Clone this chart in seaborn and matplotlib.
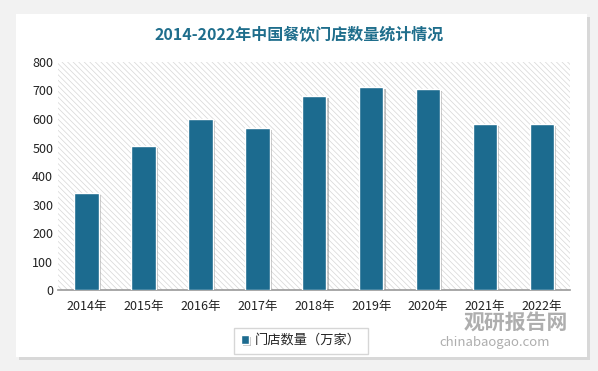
import matplotlib
matplotlib.use('Agg')
import matplotlib.pyplot as plt
import matplotlib.patheffects as pe
from matplotlib.patches import Rectangle
import seaborn as sns
import pandas as pd

years = ['2014年', '2015年', '2016年', '2017年', '2018年', '2019年', '2020年', '2021年', '2022年']
stores = [340, 507, 601, 568, 681, 712, 705, 582, 582]
series_name = '门店数量（万家）'

sns.set_style('white')
plt.rcParams['font.family'] = ['Noto Sans CJK SC', 'DejaVu Sans']
plt.rcParams['hatch.linewidth'] = 0.5
plt.rcParams['hatch.color'] = '#d2d2d2'

df = pd.DataFrame({'year': years, 'value': stores})

fig = plt.figure(figsize=(5.98, 3.71), dpi=100)
fig.patch.set_facecolor('#f2f2f2')

# white card with soft shadow
card = Rectangle((0.027, 0.037), 0.955, 0.925, transform=fig.transFigure,
                 facecolor='white', edgecolor='none', zorder=-5,
                 path_effects=[pe.SimplePatchShadow(offset=(2, -2), shadow_rgbFace='#c8c8c8', alpha=0.6),
                               pe.Normal()])
fig.patches.append(card)

ax = fig.add_axes([0.097, 0.218, 0.857, 0.615])
ax.set_zorder(1)
ax.set_facecolor('none')

# hatched background
ax.add_patch(Rectangle((0, 0), 1, 1, transform=ax.transAxes, facecolor='white',
                       edgecolor='#d6d6d6', hatch='\\\\\\\\\\\\', linewidth=0, zorder=0))

sns.barplot(data=df, x='year', y='value', color='#1c6b8f', width=0.43,
            saturation=1, ax=ax, zorder=3, label=series_name)
for bar in ax.patches[1:]:
    bar.set_edgecolor('white')
    bar.set_linewidth(1.0)
    bar.set_path_effects([pe.SimplePatchShadow(offset=(1.5, -1.5), shadow_rgbFace='#888888', alpha=0.5),
                          pe.Normal()])

ax.set_ylim(0, 800)
ax.set_xlim(-0.5, 8.5)
ax.set_yticks(range(0, 801, 100))
ax.set_xlabel('')
ax.set_ylabel('')
ax.tick_params(axis='both', labelsize=9, length=0, colors='#222222')
ax.tick_params(axis='x', pad=7)
for s in ['top', 'right', 'left']:
    ax.spines[s].set_visible(False)
ax.spines['bottom'].set_color('#999999')
ax.spines['bottom'].set_linewidth(1.2)

leg = ax.legend(loc='upper center', bbox_to_anchor=(0.474, -0.135), frameon=True,
                fontsize=9.5, handlelength=0.6, handleheight=0.6, handletextpad=0.5,
                fancybox=False, borderpad=0.5)
leg.get_frame().set_edgecolor('#cccccc')
leg.get_frame().set_linewidth(1.0)

fig.text(0.5, 0.905, '2014-2022年中国餐饮门店数量统计情况', ha='center', va='center',
         fontsize=11.5, fontweight='bold', color='#1f6e8c')

# watermark
fig.text(0.775, 0.115, '观研报告网', fontsize=15, fontweight='bold', color='#9a9a9a', alpha=0.8)
fig.text(0.735, 0.068, 'chinabaogao.com', fontsize=9.5, color='#a0a0a0', alpha=0.85)

fig.savefig('out.png', dpi=100, facecolor=fig.get_facecolor())
